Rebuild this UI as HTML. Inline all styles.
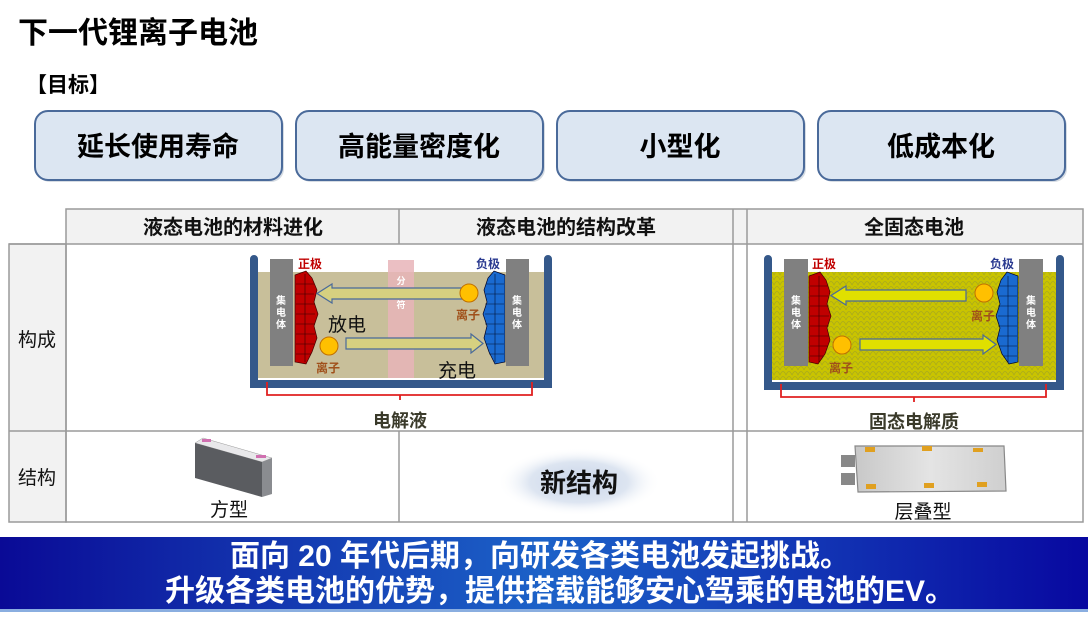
<!DOCTYPE html>
<html><head><meta charset="utf-8"><style>
html,body{margin:0;padding:0;background:#fff;}
body{width:1088px;height:612px;overflow:hidden;position:relative;font-family:"Liberation Sans","Noto Sans CJK SC",sans-serif;}
svg text{font-family:"Liberation Sans","Noto Sans CJK SC",sans-serif;}
</style></head><body>
<svg width="1088" height="612" viewBox="0 0 1088 612" xmlns="http://www.w3.org/2000/svg">
<defs>
<linearGradient id="ban" x1="0" x2="1" y1="0" y2="0">
<stop offset="0" stop-color="#0a0a96"/><stop offset="0.5" stop-color="#1c62c8"/><stop offset="1" stop-color="#0808a0"/>
</linearGradient>
<radialGradient id="glow" cx="0.5" cy="0.5" r="0.5">
<stop offset="0" stop-color="#c8d4e8"/><stop offset="0.6" stop-color="#dde5f1"/><stop offset="1" stop-color="#ffffff" stop-opacity="0"/>
</radialGradient>
<linearGradient id="pouch" x1="0" x2="1"><stop offset="0" stop-color="#c8c8c8"/><stop offset="0.5" stop-color="#e4e4e4"/><stop offset="1" stop-color="#cfcfcf"/></linearGradient>
<pattern id="grain" width="12" height="10" patternUnits="userSpaceOnUse">
<rect width="12" height="10" fill="#c9c400"/>
<path d="M0 10 Q3 3 6 10 Q9 3 12 10 M-6 5 Q-3 -2 0 5 Q3 -2 6 5 Q9 -2 12 5" fill="none" stroke="#a8a820" stroke-width="0.7"/>
</pattern>
</defs>

<!-- title -->
<text x="18" y="43" font-size="30" font-weight="bold" fill="#000">下一代锂离子电池</text>
<text x="26" y="92" font-size="21" font-weight="bold" fill="#000">【目标】</text>

<!-- goal boxes -->
<g font-size="27" font-weight="bold" fill="#000" text-anchor="middle">
<rect x="37" y="113" width="247" height="69" rx="13" fill="#8a9ab0" opacity="0.35"/>
<rect x="35" y="111" width="247" height="69" rx="13" fill="#dce6f2" stroke="#4a6a9a" stroke-width="2"/>
<text x="158" y="156">延长使用寿命</text>
<rect x="298" y="113" width="247" height="69" rx="13" fill="#8a9ab0" opacity="0.35"/>
<rect x="296" y="111" width="247" height="69" rx="13" fill="#dce6f2" stroke="#4a6a9a" stroke-width="2"/>
<text x="419" y="156">高能量密度化</text>
<rect x="559" y="113" width="247" height="69" rx="13" fill="#8a9ab0" opacity="0.35"/>
<rect x="557" y="111" width="247" height="69" rx="13" fill="#dce6f2" stroke="#4a6a9a" stroke-width="2"/>
<text x="680" y="156">小型化</text>
<rect x="820" y="113" width="247" height="69" rx="13" fill="#8a9ab0" opacity="0.35"/>
<rect x="818" y="111" width="247" height="69" rx="13" fill="#dce6f2" stroke="#4a6a9a" stroke-width="2"/>
<text x="941" y="156">低成本化</text>
</g>

<!-- table -->
<rect x="66" y="209" width="1017" height="35" fill="#f2f2f2"/>
<rect x="9" y="244" width="57" height="278" fill="#f2f2f2"/>
<g stroke="#9a9a9a" stroke-width="1.5" fill="none">
<rect x="66" y="209" width="1017" height="313"/>
<rect x="9" y="244" width="57" height="278"/>
<line x1="9" y1="244" x2="1083" y2="244"/>
<line x1="9" y1="431" x2="1083" y2="431"/>
<line x1="399" y1="209" x2="399" y2="244"/>
<line x1="399" y1="431" x2="399" y2="522"/>
<line x1="733" y1="209" x2="733" y2="522"/>
<line x1="747" y1="209" x2="747" y2="522"/>
</g>
<g font-size="20" font-weight="bold" fill="#111" text-anchor="middle">
<text x="233" y="234">液态电池的材料进化</text>
<text x="566" y="234">液态电池的结构改革</text>
<text x="914" y="234">全固态电池</text>
</g>
<g font-size="19" fill="#111" text-anchor="middle">
<text x="37" y="346">构成</text>
<text x="37" y="484">结构</text>
<text x="229" y="516">方型</text>
<text x="923" y="518">层叠型</text>
</g>

<!-- liquid battery -->
<rect x="258" y="272" width="286" height="106" fill="#c8bf9a"/>
<path d="M254 259 V384 H548 V259" fill="none" stroke="#34588a" stroke-width="8" stroke-linecap="round"/>
<rect x="388" y="260" width="26" height="118" fill="#e8b4b8" opacity="0.85"/>
<g font-size="9" fill="#fff" text-anchor="middle" font-weight="bold" font-family="'Noto Sans CJK SC',sans-serif">
<text x="401" y="284">分</text><text x="401" y="296">隔</text><text x="401" y="308">符</text>
</g>
<rect x="270" y="259" width="23" height="107" fill="#808080"/>
<rect x="506" y="259" width="23" height="107" fill="#808080"/>
<g font-size="10" fill="#fff" font-weight="bold" text-anchor="middle">
<text x="281" y="304">集</text><text x="281" y="316">电</text><text x="281" y="328">体</text>
<text x="517" y="304">集</text><text x="517" y="316">电</text><text x="517" y="328">体</text>
</g>
<path d="M295 275 L306 271 L312 278 L317 290 L314 302 L318 314 L314 326 L317 338 L312 352 L306 364 L295 362 Z" fill="#c00000" stroke="#400" stroke-width="0.7"/>
<path d="M296 284 H314 M296 294 H314 M296 304 H315 M296 314 H315 M296 324 H315 M296 334 H315 M296 344 H314 M296 354 H311 M305 274 V362" stroke="#300" stroke-width="0.6" fill="none"/>
<path d="M505 275 L494 271 L488 278 L484 290 L487 302 L483 314 L487 326 L484 338 L489 352 L495 364 L505 362 Z" fill="#1a6ad0" stroke="#002" stroke-width="0.7"/>
<path d="M504 284 H486 M504 294 H486 M504 304 H485 M504 314 H485 M504 324 H485 M504 334 H485 M504 344 H486 M504 354 H489 M495 274 V362" stroke="#013" stroke-width="0.6" fill="none"/>
<text x="310" y="268" font-size="12" font-weight="bold" fill="#c00000" text-anchor="middle">正极</text>
<text x="488" y="268" font-size="12" font-weight="bold" fill="#2a3a90" text-anchor="middle">负极</text>
<path d="M466 288 H332 V284 L317 293.5 L332 303 V299 H466 Z" fill="#d6d080" stroke="#4a6a9a" stroke-width="1.2"/>
<path d="M346 338 H471 V334 L483 343.5 L471 353 V349 H346 Z" fill="#d6d080" stroke="#4a6a9a" stroke-width="1.2"/>
<circle cx="469" cy="293" r="9" fill="#ffc000" stroke="#c07000" stroke-width="1"/>
<circle cx="329" cy="346" r="9" fill="#ffc000" stroke="#c07000" stroke-width="1"/>
<text x="468" y="319" font-size="12" font-weight="bold" fill="#a0501a" text-anchor="middle">离子</text>
<text x="328" y="372" font-size="12" font-weight="bold" fill="#a0501a" text-anchor="middle">离子</text>
<text x="347" y="331" font-size="19" fill="#111" text-anchor="middle">放电</text>
<text x="457" y="377" font-size="19" fill="#111" text-anchor="middle">充电</text>
<path d="M267 382 V395 H400 V400 M400 395 H532 V382" fill="none" stroke="#e02020" stroke-width="1.8"/>
<text x="400" y="427" font-size="18" font-weight="bold" fill="#3a3a2a" text-anchor="middle">电解液</text>

<!-- solid battery -->
<rect x="772" y="272" width="286" height="108" fill="url(#grain)"/>
<path d="M768 259 V386 H1060 V259" fill="none" stroke="#34588a" stroke-width="8" stroke-linecap="round"/>
<rect x="784" y="259" width="24" height="107" fill="#808080"/>
<rect x="1019" y="259" width="24" height="107" fill="#808080"/>
<g font-size="10" fill="#fff" font-weight="bold" text-anchor="middle">
<text x="796" y="304">集</text><text x="796" y="316">电</text><text x="796" y="328">体</text>
<text x="1031" y="304">集</text><text x="1031" y="316">电</text><text x="1031" y="328">体</text>
</g>
<path d="M809 276 L820 272 L826 280 L830 292 L827 304 L831 316 L827 328 L830 340 L825 354 L818 364 L809 362 Z" fill="#c00000" stroke="#400" stroke-width="0.7"/>
<path d="M810 286 H828 M810 296 H828 M810 306 H829 M810 316 H829 M810 326 H829 M810 336 H829 M810 346 H828 M810 356 H823 M819 276 V362" fill="none" stroke="#300" stroke-width="0.6"/>
<path d="M1018 276 L1007 272 L1001 280 L997 292 L1000 304 L996 316 L1000 328 L997 340 L1002 354 L1009 364 L1018 362 Z" fill="#1a6ad0" stroke="#002" stroke-width="0.7"/>
<path d="M1017 286 H999 M1017 296 H999 M1017 306 H998 M1017 316 H998 M1017 326 H998 M1017 336 H998 M1017 346 H999 M1017 356 H1004 M1008 276 V362" fill="none" stroke="#013" stroke-width="0.6"/>
<text x="824" y="268" font-size="12" font-weight="bold" fill="#c00000" text-anchor="middle">正极</text>
<text x="1002" y="268" font-size="12" font-weight="bold" fill="#2a3a90" text-anchor="middle">负极</text>
<path d="M966 290 H846 V286 L831 295.5 L846 305 V301 H966 Z" fill="#e0e000" stroke="#4a6a9a" stroke-width="1.2"/>
<path d="M860 339 H983 V335 L996 344.5 L983 354 V350 H860 Z" fill="#e0e000" stroke="#4a6a9a" stroke-width="1.2"/>
<circle cx="984" cy="293" r="9" fill="#ffc000" stroke="#c07000" stroke-width="1"/>
<circle cx="842" cy="345" r="9" fill="#ffc000" stroke="#c07000" stroke-width="1"/>
<text x="983" y="320" font-size="12" font-weight="bold" fill="#a0501a" text-anchor="middle">离子</text>
<text x="841" y="372" font-size="12" font-weight="bold" fill="#a0501a" text-anchor="middle">离子</text>
<path d="M781 384 V397 H914 V402 M914 397 H1046 V384" fill="none" stroke="#e02020" stroke-width="1.8"/>
<text x="914" y="428" font-size="18" font-weight="bold" fill="#3a3a2a" text-anchor="middle">固态电解质</text>

<!-- prismatic cell -->
<polygon points="195,443 203,438 272,458 262,462" fill="#e8e8ea" stroke="#999" stroke-width="0.5"/>
<polygon points="195,443 262,462 262,497 195,478" fill="#5a5c60"/>
<polygon points="262,462 272,458 272,494 262,497" fill="#8a8c90"/>
<rect x="202" y="439" width="9" height="3" fill="#d070b0"/>
<rect x="256" y="455" width="10" height="3" fill="#d070b0"/>

<!-- new structure -->
<ellipse cx="579" cy="482" rx="82" ry="34" fill="url(#glow)"/>
<text x="579" y="492" font-size="26" font-weight="bold" fill="#111" text-anchor="middle">新结构</text>

<!-- pouch cell -->
<polygon points="855,446 1004,446 1006,491 858,492" fill="url(#pouch)" stroke="#888" stroke-width="1.2"/>
<rect x="841" y="455" width="14" height="12" fill="#888"/>
<rect x="841" y="473" width="14" height="12" fill="#888"/>
<g fill="#e0a020"><rect x="865" y="447" width="10" height="5"/><rect x="922" y="446" width="10" height="5"/><rect x="973" y="448" width="10" height="4"/><rect x="866" y="484" width="10" height="5"/><rect x="924" y="483" width="10" height="5"/><rect x="977" y="482" width="10" height="5"/></g>

<!-- banner -->
<rect x="0" y="537" width="1088" height="73" fill="url(#ban)"/>
<rect x="0" y="609" width="1088" height="3" fill="#8aaee0"/>
<g font-size="30" font-weight="bold" fill="#fff" text-anchor="middle">
<text x="540" y="566">面向 20 年代后期，向研发各类电池发起挑战。</text>
<text x="560" y="601">升级各类电池的优势，提供搭载能够安心驾乘的电池的EV。</text>
</g>
</svg>
</body></html>
